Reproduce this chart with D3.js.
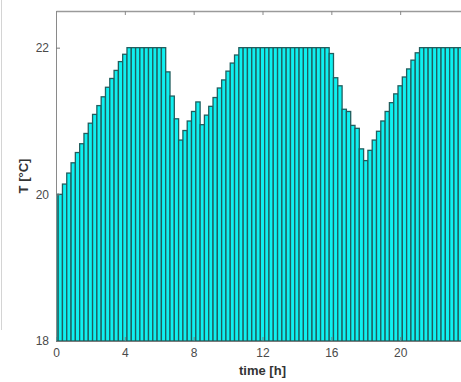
<!DOCTYPE html>
<html>
<head>
<meta charset="utf-8">
<script src="https://cdn.jsdelivr.net/npm/d3@7"></script>
<style>
  body { margin: 0; background: #fff; }
  svg { display: block; }
</style>
</head>
<body>
<div id="chart"></div>
<script>
// temperature per 15 min step
const times = d3.range(96).map(i => i / 4);
const temps = [
  20.0, 20.0, 20.14, 20.29, 20.43, 20.57, 20.69, 20.83, 20.97, 21.09, 21.21, 21.33, 21.46, 21.58, 21.69, 21.81,
  21.91, 22.0, 22.0, 22.0, 22.0, 22.0, 22.0, 22.0, 22.0, 22.0, 21.67, 21.34, 21.03, 20.74, 20.87, 21.0,
  21.13, 21.26, 20.95, 21.08, 21.2, 21.32, 21.45, 21.56, 21.68, 21.79, 21.9, 22.0, 22.0, 22.0, 22.0, 22.0,
  22.0, 22.0, 22.0, 22.0, 22.0, 22.0, 22.0, 22.0, 22.0, 22.0, 22.0, 22.0, 22.0, 22.0, 22.0, 22.0,
  21.92, 21.59, 21.48, 21.16, 21.13, 20.94, 20.9, 20.62, 20.46, 20.6, 20.74, 20.86, 21.0, 21.13, 21.25, 21.37,
  21.48, 21.6, 21.71, 21.83, 21.93, 22.0, 22.0, 22.0, 22.0, 22.0, 22.0, 22.0, 22.0, 22.0, 22.0, 22.0
];
// 24 h lies outside the cropped picture
const xTicks = [0, 4, 8, 12, 16, 20];
const yTicks = [18, 20, 22];

// the plot box runs past the right edge of the picture
const margin = { top: 11, left: 56 };
const width = 413;
const height = 330;

const x = d3.scaleLinear().domain([0, 24]).range([0, width]);
const y = d3.scaleLinear().domain([18, 22.5]).range([height, 0]);
const step = x(0.25) - x(0);

const svg = d3.select('#chart')
  .append('svg')
  .attr('width', 461)
  .attr('height', 382);

// stray frame line at the left of the screenshot
svg.append('line')
  .attr('x1', 1.5).attr('x2', 1.5)
  .attr('y1', 0).attr('y2', 330)
  .attr('stroke', '#d4d4d4')
  .attr('stroke-width', 1);

const g = svg.append('g')
  .attr('transform', `translate(${margin.left},${margin.top})`);

g.append('defs').append('clipPath')
  .attr('id', 'plotClip')
  .append('rect')
  .attr('width', width)
  .attr('height', height);

// bars centred on each time step
g.append('g')
  .attr('clip-path', 'url(#plotClip)')
  .selectAll('rect')
  .data(temps)
  .enter()
  .append('rect')
  .attr('x', (d, i) => x(times[i]) - step / 2)
  .attr('y', d => y(d))
  .attr('width', step)
  .attr('height', d => y(18) - y(d))
  .attr('fill', '#0ff0f0')
  .attr('stroke', '#215e5e')
  .attr('stroke-width', 1.3);

const tickColor = '#4a4a4a';
const fmt = d3.format('d');

// left axis
g.append('g')
  .call(d3.axisLeft(y).tickValues(yTicks).tickFormat(fmt).tickSizeInner(-4).tickSizeOuter(0).tickPadding(7))
  .call(a => a.selectAll('text').style('font-family', 'Liberation Sans, Arial, sans-serif').style('font-size', '12px').attr('fill', tickColor))
  .call(a => a.selectAll('line').attr('stroke', '#7a7a7a'))
  .call(a => a.select('.domain').attr('stroke', '#8a8a8a'));

// bottom axis
g.append('g')
  .attr('transform', `translate(0,${height})`)
  .call(d3.axisBottom(x).tickValues(xTicks).tickFormat(fmt).tickSizeInner(-4).tickSizeOuter(0).tickPadding(7))
  .call(a => a.selectAll('text').style('font-family', 'Liberation Sans, Arial, sans-serif').style('font-size', '12px').attr('fill', tickColor))
  .call(a => a.selectAll('line').attr('stroke', '#5f8f8f'))
  .call(a => a.select('.domain').attr('stroke', '#7a7a7a').attr('stroke-width', 1.2));

// top edge of the box
g.append('g')
  .call(d3.axisTop(x).tickValues(xTicks).tickSizeInner(-4).tickSizeOuter(0).tickFormat(''))
  .call(a => a.selectAll('line').attr('stroke', '#8a8a8a'))
  .call(a => a.select('.domain').attr('stroke', '#9a9a9a').attr('stroke-width', 1.4));

// axis titles
g.append('text')
  .attr('x', x(12))
  .attr('y', height + 34)
  .attr('text-anchor', 'middle')
  .style('font-family', 'Liberation Sans, Arial, sans-serif')
  .style('font-size', '13px')
  .style('font-weight', 'bold')
  .attr('fill', '#333')
  .text('time [h]');

g.append('text')
  .attr('transform', `translate(-28,${height / 2}) rotate(-90)`)
  .attr('text-anchor', 'middle')
  .style('font-family', 'Liberation Sans, Arial, sans-serif')
  .style('font-size', '13px')
  .style('font-weight', 'bold')
  .attr('fill', '#333')
  .text('T [°C]');
</script>
</body>
</html>
